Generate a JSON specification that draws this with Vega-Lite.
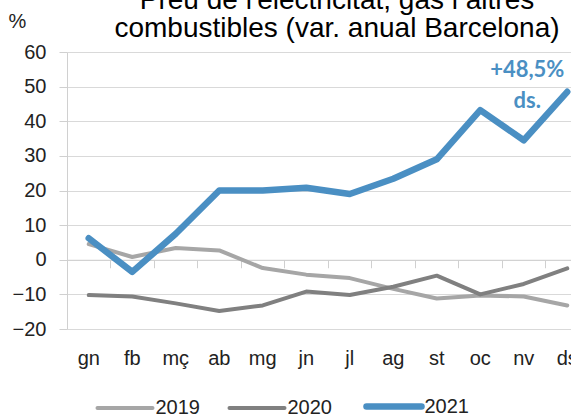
{
  "$schema": "https://vega.github.io/schema/vega-lite/v6.json",
  "autosize": "none",
  "width": 504,
  "height": 277,
  "padding": {"left": 67, "top": 52, "right": 0, "bottom": 85},
  "background": "white",
  "title": {
    "text": ["Preu de l'electricitat, gas i altres", "combustibles (var. anual Barcelona)"],
    "font": "Liberation Sans",
    "fontSize": 28,
    "fontWeight": "normal",
    "color": "#000000",
    "anchor": "middle",
    "frame": "group",
    "dx": 18,
    "offset": 0,
    "dy": 32,
    "lineHeight": 28
  },
  "config": {
    "view": {"stroke": null},
    "font": "Liberation Sans"
  },
  "encoding": {
    "x": {
      "field": "mes",
      "type": "nominal",
      "scale": {
        "type": "band",
        "domain": ["gn", "fb", "mç", "ab", "mg", "jn", "jl", "ag", "st", "oc", "nv", "ds"],
        "range": [0, 522],
        "paddingInner": 0,
        "paddingOuter": 0
      },
      "axis": {
        "title": null,
        "orient": "bottom",
        "offset": -69.25,
        "labelAngle": 0,
        "labelFont": "Liberation Sans",
        "labelFontSize": 20,
        "labelColor": "#222222",
        "labelBaseline": "alphabetic",
        "labelPadding": 97,
        "labelOverlap": false,
        "bandPosition": 0,
        "tickSize": 8,
        "tickColor": "#d0d0d0",
        "domainColor": "#d0d0d0",
        "grid": false
      }
    },
    "y": {
      "field": "valor",
      "type": "quantitative",
      "scale": {"domain": [-20, 60], "nice": false, "zero": false},
      "axis": {
        "values": [-20, -10, 0, 10, 20, 30, 40, 50, 60],
        "labelOverlap": false,
        "title": "%",
        "titleAngle": 0,
        "titleFont": "Liberation Sans",
        "titleFontSize": 20,
        "titleFontWeight": "normal",
        "titleColor": "#222222",
        "titleAlign": "center",
        "titleBaseline": "middle",
        "titleX": -50,
        "titleY": -31,
        "labelFont": "Liberation Sans",
        "labelFontSize": 20,
        "labelColor": "#222222",
        "labelPadding": 13,
        "tickSize": 8,
        "tickColor": "#d0d0d0",
        "domainColor": "#d0d0d0",
        "gridColor": "#d9d9d9",
        "gridWidth": 1
      }
    }
  },
  "layer": [
    {
      "data": {
        "values": [
          {"mes": "gn", "any": "2019", "valor": 4.5},
          {"mes": "fb", "any": "2019", "valor": 0.8},
          {"mes": "mç", "any": "2019", "valor": 3.4},
          {"mes": "ab", "any": "2019", "valor": 2.7},
          {"mes": "mg", "any": "2019", "valor": -2.4},
          {"mes": "jn", "any": "2019", "valor": -4.3},
          {"mes": "jl", "any": "2019", "valor": -5.3},
          {"mes": "ag", "any": "2019", "valor": -8.4},
          {"mes": "st", "any": "2019", "valor": -11.2},
          {"mes": "oc", "any": "2019", "valor": -10.3},
          {"mes": "nv", "any": "2019", "valor": -10.6},
          {"mes": "ds", "any": "2019", "valor": -13.2},
          {"mes": "gn", "any": "2020", "valor": -10.2},
          {"mes": "fb", "any": "2020", "valor": -10.6},
          {"mes": "mç", "any": "2020", "valor": -12.6},
          {"mes": "ab", "any": "2020", "valor": -14.8},
          {"mes": "mg", "any": "2020", "valor": -13.2},
          {"mes": "jn", "any": "2020", "valor": -9.2},
          {"mes": "jl", "any": "2020", "valor": -10.2},
          {"mes": "ag", "any": "2020", "valor": -7.8},
          {"mes": "st", "any": "2020", "valor": -4.6},
          {"mes": "oc", "any": "2020", "valor": -10.0},
          {"mes": "nv", "any": "2020", "valor": -7.0},
          {"mes": "ds", "any": "2020", "valor": -2.5},
          {"mes": "gn", "any": "2021", "valor": 6.2},
          {"mes": "fb", "any": "2021", "valor": -3.5},
          {"mes": "mç", "any": "2021", "valor": 7.5},
          {"mes": "ab", "any": "2021", "valor": 20.0},
          {"mes": "mg", "any": "2021", "valor": 20.0},
          {"mes": "jn", "any": "2021", "valor": 20.8},
          {"mes": "jl", "any": "2021", "valor": 19.0},
          {"mes": "ag", "any": "2021", "valor": 23.4},
          {"mes": "st", "any": "2021", "valor": 29.0},
          {"mes": "oc", "any": "2021", "valor": 43.2},
          {"mes": "nv", "any": "2021", "valor": 34.5},
          {"mes": "ds", "any": "2021", "valor": 48.5}
        ]
      },
      "mark": {"type": "line", "strokeCap": "round", "strokeJoin": "round"},
      "encoding": {
        "color": {
          "field": "any",
          "type": "nominal",
          "scale": {"domain": ["2019", "2020", "2021"], "range": ["#a6a6a6", "#808080", "#4a8fc3"]},
          "legend": {
            "title": null,
            "orient": "none",
            "direction": "horizontal",
            "legendX": 48,
            "legendY": 344.5,
            "symbolType": "stroke",
            "symbolSize": 3025,
            "labelFont": "Liberation Sans",
            "labelFontSize": 20,
            "labelColor": "#222222",
            "labelOffset": 20.5,
            "columnPadding": 21,
            "encode": {
              "symbols": {
                "update": {
                  "strokeWidth": {"signal": "datum.value === '2021' ? 6.5 : 4"},
                  "strokeCap": {"value": "round"}
                }
              }
            }
          }
        },
        "strokeWidth": {
          "condition": {"test": "datum.any === '2021'", "value": 6.5},
          "value": 4
        }
      }
    },
    {
      "data": {"values": [{"mes": "ds", "valor": 48.5, "etiqueta": "+48,5%\nds."}]},
      "mark": {
        "type": "text",
        "font": "Lato",
        "fontWeight": "bold",
        "fontSize": 22,
        "color": "#4a8fc3",
        "align": "center",
        "baseline": "alphabetic",
        "lineBreak": "\n",
        "lineHeight": 31,
        "dx": -40,
        "dy": -15
      },
      "encoding": {
        "text": {"field": "etiqueta"}
      }
    }
  ]
}
